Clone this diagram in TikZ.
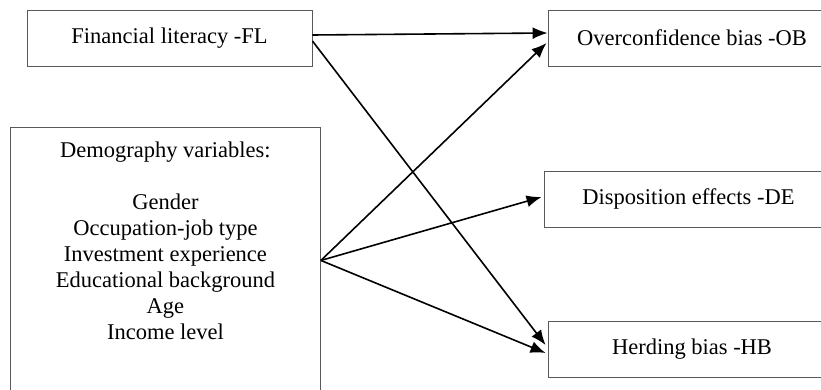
\documentclass[tikz,border=0pt]{standalone}
\usepackage{fontspec}
\setmainfont{Liberation Serif}
\usetikzlibrary{arrows.meta}

\begin{document}
\begin{tikzpicture}
[every node/.style={inner sep=0pt},
 box/.style={rectangle, minimum height=56pt, line width=0.9pt, draw=black!65, font=\fontsize{22.5}{26}\selectfont},
 link/.style={line width=1.6pt, -{Latex[length=15pt,width=12pt]}, color=black}]
\clip (0pt, 0pt) rectangle (821pt, -390pt);
\node (fl) [box, minimum width=285pt] at (169.5pt, -38.0pt) {Financial literacy -FL};
\node (demo) [box, minimum width=310pt, minimum height=266pt, anchor=north west] at (10pt, -127pt)
  {\parbox[c][266pt][t]{310pt}{\centering\vspace*{14.5pt}Demography variables:\\[26pt]
   Gender\\Occupation-job type\\Investment experience\\Educational background\\Age\\Income level}};
\node (ob) [box, minimum width=288pt] at (692.0pt, -38.0pt) {Overconfidence bias -OB};
\node (de) [box, minimum width=289pt] at (688.5pt, -199.0pt) {Disposition effects -DE};
\node (hb) [box, minimum width=288pt] at (692.0pt, -349.5pt) {Herding bias -HB};
\draw [link] ([yshift=3pt]fl.east) to ([yshift=5pt]ob.west);
\draw [link] ([yshift=-3pt]fl.east) to ([xshift=-2pt, yshift=4.5pt]hb.west);
\draw [link] (demo.east) to ([xshift=-1pt, yshift=-5pt]ob.west);
\draw [link] (demo.east) to ([xshift=-2pt, yshift=2pt]de.west);
\draw [link] (demo.east) to ([xshift=-2pt, yshift=-3.5pt]hb.west);
\end{tikzpicture}
\end{document}
